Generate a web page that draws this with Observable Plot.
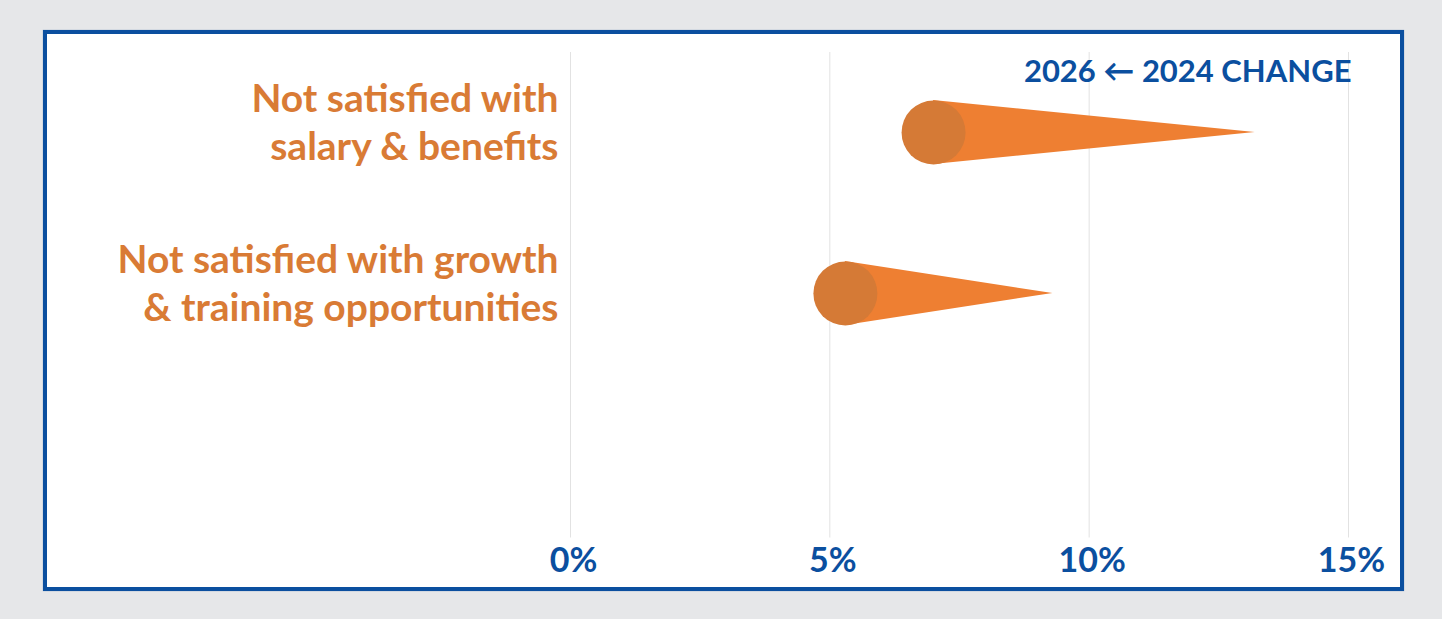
<!DOCTYPE html>
<html>
<head>
<meta charset="utf-8">
<script src="https://cdn.jsdelivr.net/npm/d3@7"></script>
<script src="https://cdn.jsdelivr.net/npm/@observablehq/plot@0.6"></script>
<style>
  html, body { margin: 0; padding: 0; background: #e6e7e9; width: 1442px; height: 619px; overflow: hidden; }
  #panel {
    position: absolute; left: 43px; top: 30px; width: 1361px; height: 561px;
    box-sizing: border-box; border: 4px solid #0b4f9f; background: #fff;
    box-shadow: 0 0 1px rgba(11,79,159,0.5);
  }
  #panel svg { display: block; }
</style>
</head>
<body>
<div id="panel"></div>
<script>
// ---- data ----
const categories = [
  "Not satisfied with\nsalary & benefits",
  "Not satisfied with growth\n& training opportunities"
];
const values2026 = [7.0, 5.3];
const values2024 = [13.2, 9.3];
const xTicks = [0, 5, 10, 15];
const title = "2026 \u2190 2024 CHANGE";

// ---- styles ----
const BLUE = "#0b4f9f";
const ORANGE_TEXT = "#d97b35";
const WEDGE = "#ee7f32";
const DOT = "#d57a36";
const R = 32;
const FONT = "Lato, 'Open Sans', sans-serif";

const rows = categories.map((c, i) => ({category: c, v2026: values2026[i], v2024: values2024[i]}));

const wedges = (index, scales) => {
  const g = d3.create("svg:g").attr("fill", WEDGE);
  for (const d of rows) {
    const yc = scales.y(d.category);
    const xa = scales.x(d.v2026);
    const xb = scales.x(d.v2024);
    g.append("path").attr("d", `M${xa},${yc - R}L${xb},${yc}L${xa},${yc + R}Z`);
  }
  return g.node();
};

const chart = Plot.plot({
  width: 1353,
  height: 553,
  marginLeft: 523,
  marginRight: 52,
  marginTop: 18,
  marginBottom: 49.5,
  style: {background: "#fff", fontFamily: FONT, overflow: "visible"},
  x: {domain: [0, 15], ticks: xTicks},
  y: {domain: categories, type: "point", padding: 1, align: 0.248},
  marks: [
    Plot.gridX(xTicks, {stroke: "#e2e2e2", strokeOpacity: 1, strokeWidth: 1}),
    Plot.axisX({
      ticks: xTicks, tickSize: 0, tickPadding: 10, tickFormat: d => d + "%",
      fontSize: 34, fontWeight: 700, fill: BLUE, label: null, dx: 3
    }),
    Plot.axisY({
      tickSize: 0, tickPadding: 12, fontSize: 39, fontWeight: 700, fill: ORANGE_TEXT,
      lineHeight: 1.24, dy: -12, label: null, textAnchor: "end"
    }),
    wedges,
    Plot.dot(rows, {x: "v2026", y: "category", r: R, fill: DOT, stroke: null}),
    Plot.text([title], {
      frameAnchor: "top-right", text: d => d, textAnchor: "end", lineAnchor: "top",
      dx: 3, dy: 7, fontSize: 31, fontWeight: 700, fill: BLUE
    })
  ]
});
document.getElementById("panel").appendChild(chart);
</script>
</body>
</html>
